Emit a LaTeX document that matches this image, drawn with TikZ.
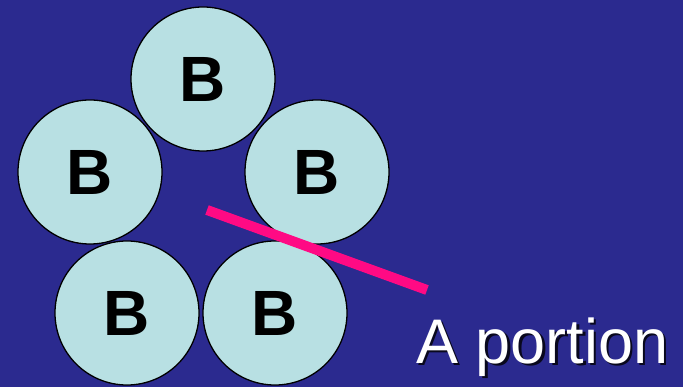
\documentclass[tikz,border=0pt]{standalone}
\usepackage{fontspec}
\setmainfont{Liberation Sans}
\definecolor{bgblue}{HTML}{2B2A8F}
\definecolor{ballfill}{HTML}{B8E0E3}
\definecolor{magline}{HTML}{FF0A84}
\colorlet{shadowcol}{black!80!bgblue}
\begin{document}
\begin{tikzpicture}[x=1pt,y=-1pt,
  ball/.style={circle,draw=black,line width=1.3pt,fill=ballfill,minimum size=144pt,inner sep=0pt,
    font=\fontsize{64}{64}\selectfont\bfseries,text=black}]
\fill[bgblue] (0,0) rectangle (683,387);
\useasboundingbox (0,0) rectangle (683,387);
\node[ball] (b1) at (203,79) {B};
\node[ball] (b2) at (90,172) {B};
\node[ball] (b3) at (317,172) {B};
\node[ball] (b4) at (127,313) {B};
\node[ball] (b5) at (275,313) {B};
\coordinate (l1) at (207,210);
\coordinate (l2) at (427,290);
\draw[magline,line width=10pt] (l1) -- (l2);
\node[anchor=base west,inner sep=0pt,font=\fontsize{63}{63}\selectfont] (lbl) at (416,363)
  {\makebox[0pt][l]{\hspace{2.5pt}\raisebox{-2.5pt}{\color{shadowcol}A portion}}\color{white}A portion};
\end{tikzpicture}
\end{document}
